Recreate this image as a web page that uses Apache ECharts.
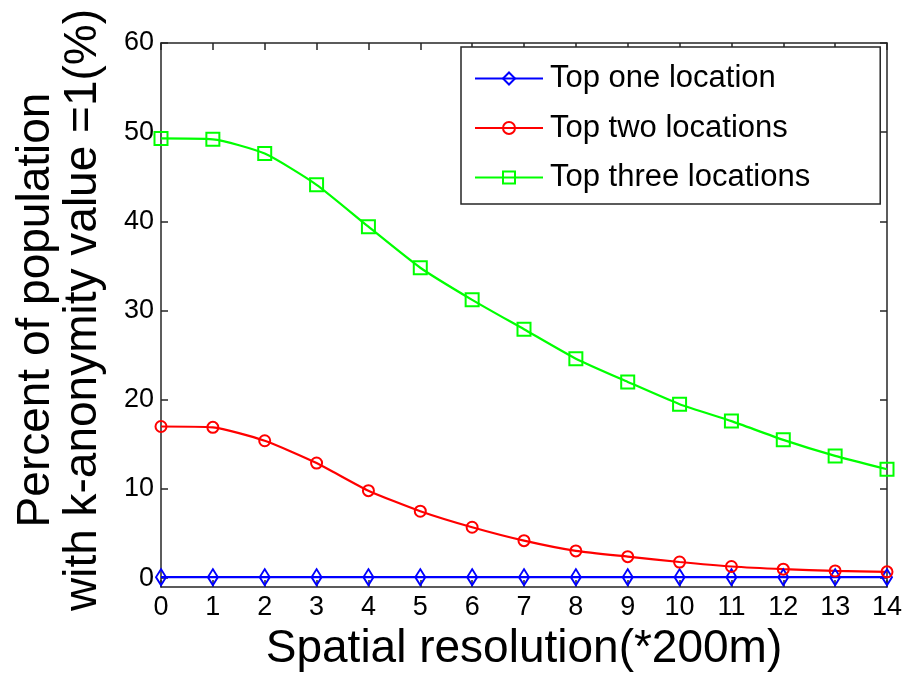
<!DOCTYPE html>
<html>
<head>
<meta charset="utf-8">
<script src="https://cdn.jsdelivr.net/npm/echarts@6/dist/echarts.min.js"></script>
<style>
  html, body { margin: 0; padding: 0; background: #fff; }
  #chart { width: 913px; height: 676px; }
</style>
</head>
<body>
<div id="chart"></div>
<script>
// Spatial resolution steps (*200m)
const resolution = [0, 1, 2, 3, 4, 5, 6, 7, 8, 9, 10, 11, 12, 13, 14];
// Percent of population with k-anonymity value = 1
const topOne   = [0.1, 0.1, 0.1, 0.1, 0.1, 0.1, 0.1, 0.1, 0.1, 0.1, 0.1, 0.1, 0.1, 0.1, 0.1];
const topTwo   = [17.0, 16.9, 15.4, 12.9, 9.8, 7.5, 5.7, 4.2, 3.05, 2.4, 1.8, 1.3, 1.0, 0.8, 0.7];
const topThree = [49.3, 49.2, 47.6, 44.1, 39.4, 34.8, 31.2, 27.9, 24.6, 22.0, 19.5, 17.6, 15.5, 13.7, 12.2];
const yTicks = [0, 10, 20, 30, 40, 50, 60];
const xTicks = resolution;

const FONT = 'Liberation Sans, Arial, sans-serif';
const AXIS_COLOR = '#262626';

function pairs(vals) { return resolution.map((x, i) => [x, vals[i]]); }

const chart = echarts.init(document.getElementById('chart'), null, { renderer: 'canvas' });

const baseX = {
  type: 'value', min: 0, max: 14,
  axisLine: { show: true, onZero: false, lineStyle: { color: AXIS_COLOR, width: 1.5 } },
  axisTick: { show: true, inside: true, length: 7, customValues: xTicks, lineStyle: { color: AXIS_COLOR, width: 1.5 } },
  splitLine: { show: false }
};
const baseY = {
  type: 'value', min: -1, max: 60,
  axisLine: { show: true, onZero: false, lineStyle: { color: AXIS_COLOR, width: 1.5 } },
  axisTick: { show: true, inside: true, length: 7, customValues: yTicks, lineStyle: { color: AXIS_COLOR, width: 1.5 } },
  splitLine: { show: false }
};

function makeSeries(name, vals, color, symbol, size) {
  return {
    name, type: 'line', data: pairs(vals),
    symbol, symbolSize: size, showAllSymbol: true,
    smooth: 0.2,
    lineStyle: { color, width: 2.2 },
    itemStyle: { color: 'rgba(255,255,255,0)', borderColor: color, borderWidth: 2 },
    emphasis: { disabled: true },
    z: 3
  };
}

chart.setOption({
  animation: false,
  backgroundColor: '#fff',
  grid: {
    left: 161, top: 43, right: 26, bottom: 89,
    containLabel: false, outerBoundsMode: 'none'
  },
  xAxis: [
    Object.assign({}, baseX, {
      position: 'bottom',
      axisLabel: { show: true, customValues: xTicks, fontFamily: FONT, fontSize: 27, color: '#000', margin: 7 },
      name: 'Spatial resolution(*200m)',
      nameLocation: 'middle', nameGap: 23,
      nameTextStyle: { fontFamily: FONT, fontSize: 46, color: '#000', lineHeight: 47 }
    }),
    Object.assign({}, baseX, { position: 'top', axisLabel: { show: false } })
  ],
  yAxis: [
    Object.assign({}, baseY, {
      position: 'left',
      axisLabel: { show: true, customValues: yTicks, fontFamily: FONT, fontSize: 27, color: '#000', margin: 7 },
      name: 'Percent of population\nwith k-anonymity value =1(%)',
      nameLocation: 'middle', nameRotate: 90, nameGap: 54,
      nameTextStyle: { fontFamily: FONT, fontSize: 46, color: '#000', lineHeight: 47, padding: [0, 0, 0, 10] }
    }),
    Object.assign({}, baseY, { position: 'right', axisLabel: { show: false } })
  ],
  legend: {
    orient: 'vertical',
    left: 461, top: 47,
    padding: [16, 70, 11, 13],
    itemWidth: 68, itemHeight: 15, itemGap: 18.5,
    borderColor: '#262626', borderWidth: 1.5, backgroundColor: '#fff',
    textStyle: { fontFamily: FONT, fontSize: 31, lineHeight: 31, color: '#000', padding: [0, 0, 0, 2] },
    data: ['Top one location', 'Top two locations', 'Top three locations']
  },
  series: [
    makeSeries('Top one location', topOne, '#0000ff', 'diamond', [10, 16]),
    makeSeries('Top two locations', topTwo, '#ff0000', 'circle', 11),
    makeSeries('Top three locations', topThree, '#00ff00', 'rect', 13)
  ]
});
</script>
</body>
</html>
